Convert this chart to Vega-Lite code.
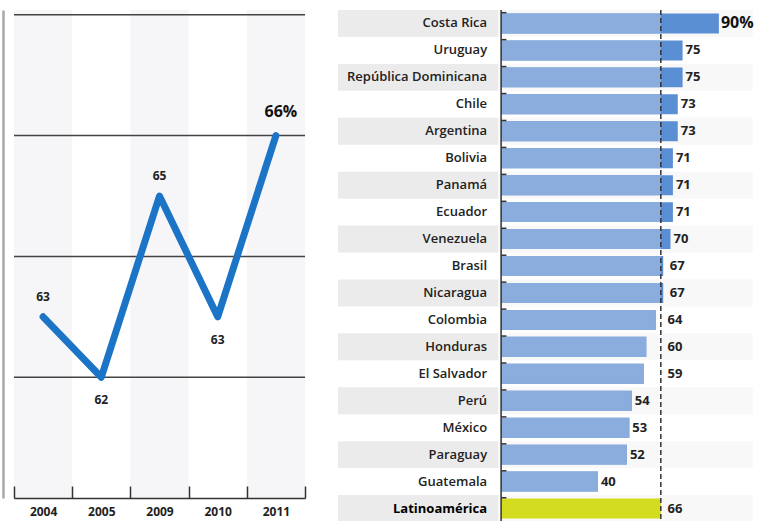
{
  "$schema": "https://vega.github.io/schema/vega-lite/v6.json",
  "padding": {"left": 3, "top": 9, "right": 0, "bottom": 0},
  "spacing": 32,
  "config": {"view": {"stroke": null}, "font": "Open Sans, sans-serif"},
  "datasets": {
    "trend": [
      {"year": "2004", "value": 63, "label": "63"},
      {"year": "2005", "value": 62, "label": "62"},
      {"year": "2009", "value": 65, "label": "65"},
      {"year": "2010", "value": 63, "label": "63"},
      {"year": "2011", "value": 66, "label": "66%"}
    ],
    "gridlines": [{"g": 62}, {"g": 64}, {"g": 66}, {"g": 68}],
    "countries": [
      {"country": "Costa Rica", "v": 90, "label": "90%"},
      {"country": "Uruguay", "v": 75, "label": "75"},
      {"country": "República Dominicana", "v": 75, "label": "75"},
      {"country": "Chile", "v": 73, "label": "73"},
      {"country": "Argentina", "v": 73, "label": "73"},
      {"country": "Bolivia", "v": 71, "label": "71"},
      {"country": "Panamá", "v": 71, "label": "71"},
      {"country": "Ecuador", "v": 71, "label": "71"},
      {"country": "Venezuela", "v": 70, "label": "70"},
      {"country": "Brasil", "v": 67, "label": "67"},
      {"country": "Nicaragua", "v": 67, "label": "67"},
      {"country": "Colombia", "v": 64, "label": "64"},
      {"country": "Honduras", "v": 60, "label": "60"},
      {"country": "El Salvador", "v": 59, "label": "59"},
      {"country": "Perú", "v": 54, "label": "54"},
      {"country": "México", "v": 53, "label": "53"},
      {"country": "Paraguay", "v": 52, "label": "52"},
      {"country": "Guatemala", "v": 40, "label": "40"},
      {"country": "Latinoamérica", "v": 66, "label": "66"}
    ]
  },
  "hconcat": [
    {
      "width": 291,
      "height": 488,
      "data": {"name": "trend"},
      "layer": [
        {
          "transform": [{"filter": "datum.year == '2004' || datum.year == '2009' || datum.year == '2011'"}],
          "mark": {"type": "rect", "fill": "#f6f6f8"},
          "encoding": {
            "x": {
              "field": "year", "type": "nominal",
              "scale": {"type": "band", "paddingInner": 0, "paddingOuter": 0, "domain": ["2004", "2005", "2009", "2010", "2011"]},
              "axis": {
                "orient": "bottom", "title": null, "labelAngle": 0, "tickBand": "extent",
                "tickSize": -12, "tickColor": "#333", "tickWidth": 1.5,
                "domainColor": "#333", "domainWidth": 1.5,
                "labelPadding": 20, "labelFontSize": 12, "labelFontWeight": "bold", "labelColor": "#222"
              }
            },
            "y": {
              "datum": 60, "type": "quantitative",
              "scale": {"domain": [60, 68.08], "nice": false, "zero": false},
              "axis": {
                "orient": "left", "offset": 11, "domain": true, "domainColor": "#a8a8a8", "domainWidth": 2.5,
                "ticks": false, "labels": false, "title": null, "grid": false
              }
            },
            "y2": {"datum": 68.08}
          }
        },
        {
          "data": {"name": "gridlines"},
          "mark": {"type": "rule", "stroke": "#444", "strokeWidth": 1.5},
          "encoding": {"y": {"field": "g", "type": "quantitative"}}
        },
        {
          "mark": {"type": "line", "stroke": "#1b74c6", "strokeWidth": 7, "strokeCap": "round", "strokeJoin": "round"},
          "encoding": {
            "x": {"field": "year", "type": "nominal", "bandPosition": 0.5},
            "y": {"field": "value", "type": "quantitative"}
          }
        },
        {
          "transform": [{"filter": "datum.year == '2004' || datum.year == '2009'"}],
          "mark": {"type": "text", "dy": -20, "fontSize": 12, "fontWeight": "bold", "color": "#222"},
          "encoding": {
            "x": {"field": "year", "type": "nominal", "bandPosition": 0.5},
            "y": {"field": "value", "type": "quantitative"},
            "text": {"field": "label"}
          }
        },
        {
          "transform": [{"filter": "datum.year == '2005' || datum.year == '2010'"}],
          "mark": {"type": "text", "dy": 23, "fontSize": 12, "fontWeight": "bold", "color": "#222"},
          "encoding": {
            "x": {"field": "year", "type": "nominal", "bandPosition": 0.5},
            "y": {"field": "value", "type": "quantitative"},
            "text": {"field": "label"}
          }
        },
        {
          "transform": [{"filter": "datum.year == '2011'"}],
          "mark": {"type": "text", "dy": -24, "dx": 5, "fontSize": 16, "fontWeight": "bold", "color": "#111"},
          "encoding": {
            "x": {"field": "year", "type": "nominal", "bandPosition": 0.5},
            "y": {"field": "value", "type": "quantitative"},
            "text": {"field": "label"}
          }
        }
      ]
    },
    {
      "width": 423,
      "height": 512,
      "data": {"name": "countries"},
      "transform": [
        {"window": [{"op": "row_number", "as": "rn"}]},
        {"calculate": "min(datum.v, 66)", "as": "lightEnd"},
        {"calculate": "datum.v >= 56 && datum.v < 69 ? max(datum.v + 1.5, 67.5) : datum.v", "as": "labelX"}
      ],
      "layer": [
        {
          "transform": [{"filter": "datum.rn % 2 == 1"}],
          "mark": {"type": "rect", "fill": "#ebebeb"},
          "encoding": {
            "x": {"datum": -67.4, "type": "quantitative", "scale": {"domain": [-67.4, 107.4], "nice": false, "zero": false}, "axis": null},
            "x2": {"datum": -1.2},
            "y": {
              "field": "country", "type": "nominal", "axis": null,
              "scale": {"paddingInner": 0, "paddingOuter": 0, "domain": ["Costa Rica", "Uruguay", "República Dominicana", "Chile", "Argentina", "Bolivia", "Panamá", "Ecuador", "Venezuela", "Brasil", "Nicaragua", "Colombia", "Honduras", "El Salvador", "Perú", "México", "Paraguay", "Guatemala", "Latinoamérica"]}
            }
          }
        },
        {
          "transform": [{"filter": "datum.rn % 2 == 1"}],
          "mark": {"type": "rect", "fill": "#f8f8f8"},
          "encoding": {
            "x": {"datum": -1.2, "type": "quantitative"},
            "x2": {"datum": 104},
            "y": {"field": "country", "type": "nominal"}
          }
        },
        {
          "mark": {"type": "bar", "height": {"band": 0.74}},
          "encoding": {
            "x": {"field": "v", "type": "quantitative"},
            "x2": {"datum": 0},
            "y": {"field": "country", "type": "nominal"},
            "color": {"condition": {"test": "datum.country == 'Latinoamérica'", "value": "#d3dc1f"}, "value": "#5b8fd4"}
          }
        },
        {
          "transform": [{"filter": "datum.country != 'Latinoamérica'"}],
          "mark": {"type": "bar", "height": {"band": 0.74}, "color": "#8badde"},
          "encoding": {
            "x": {"field": "lightEnd", "type": "quantitative"},
            "x2": {"datum": 0},
            "y": {"field": "country", "type": "nominal"}
          }
        },
        {
          "mark": {"type": "rule", "stroke": "#333", "strokeWidth": 1.5},
          "encoding": {
            "x": {"datum": 0, "type": "quantitative"},
            "x2": {"datum": 2.2},
            "y": {"field": "country", "type": "nominal", "bandPosition": 0.1}
          }
        },
        {
          "data": {"values": [{"k": 1}]},
          "mark": {"type": "rule", "stroke": "#333", "strokeWidth": 1.5, "strokeDash": [5, 3]},
          "encoding": {"x": {"datum": 66, "type": "quantitative"}}
        },
        {
          "data": {"values": [{"k": 1}]},
          "mark": {"type": "rule", "stroke": "#333", "strokeWidth": 1.5},
          "encoding": {"x": {"datum": 0, "type": "quantitative"}}
        },
        {
          "transform": [{"filter": "datum.country != 'Latinoamérica'"}],
          "mark": {"type": "text", "align": "right", "baseline": "middle", "dx": -14, "fontSize": 13, "fontWeight": 600, "color": "#222"},
          "encoding": {
            "x": {"datum": 0, "type": "quantitative"},
            "y": {"field": "country", "type": "nominal"},
            "text": {"field": "country"}
          }
        },
        {
          "transform": [{"filter": "datum.country == 'Latinoamérica'"}],
          "mark": {"type": "text", "align": "right", "baseline": "middle", "dx": -14, "fontSize": 13, "fontWeight": "bold", "color": "#000"},
          "encoding": {
            "x": {"datum": 0, "type": "quantitative"},
            "y": {"field": "country", "type": "nominal"},
            "text": {"field": "country"}
          }
        },
        {
          "transform": [{"filter": "datum.country != 'Costa Rica'"}],
          "mark": {"type": "text", "align": "left", "baseline": "middle", "dx": 3, "fontSize": 13, "fontWeight": "bold", "color": "#222"},
          "encoding": {
            "x": {"field": "labelX", "type": "quantitative"},
            "y": {"field": "country", "type": "nominal"},
            "text": {"field": "label"}
          }
        },
        {
          "transform": [{"filter": "datum.country == 'Costa Rica'"}],
          "mark": {"type": "text", "align": "left", "baseline": "middle", "dx": 2, "fontSize": 16, "fontWeight": "bold", "color": "#111"},
          "encoding": {
            "x": {"field": "labelX", "type": "quantitative"},
            "y": {"field": "country", "type": "nominal"},
            "text": {"field": "label"}
          }
        }
      ]
    }
  ]
}
